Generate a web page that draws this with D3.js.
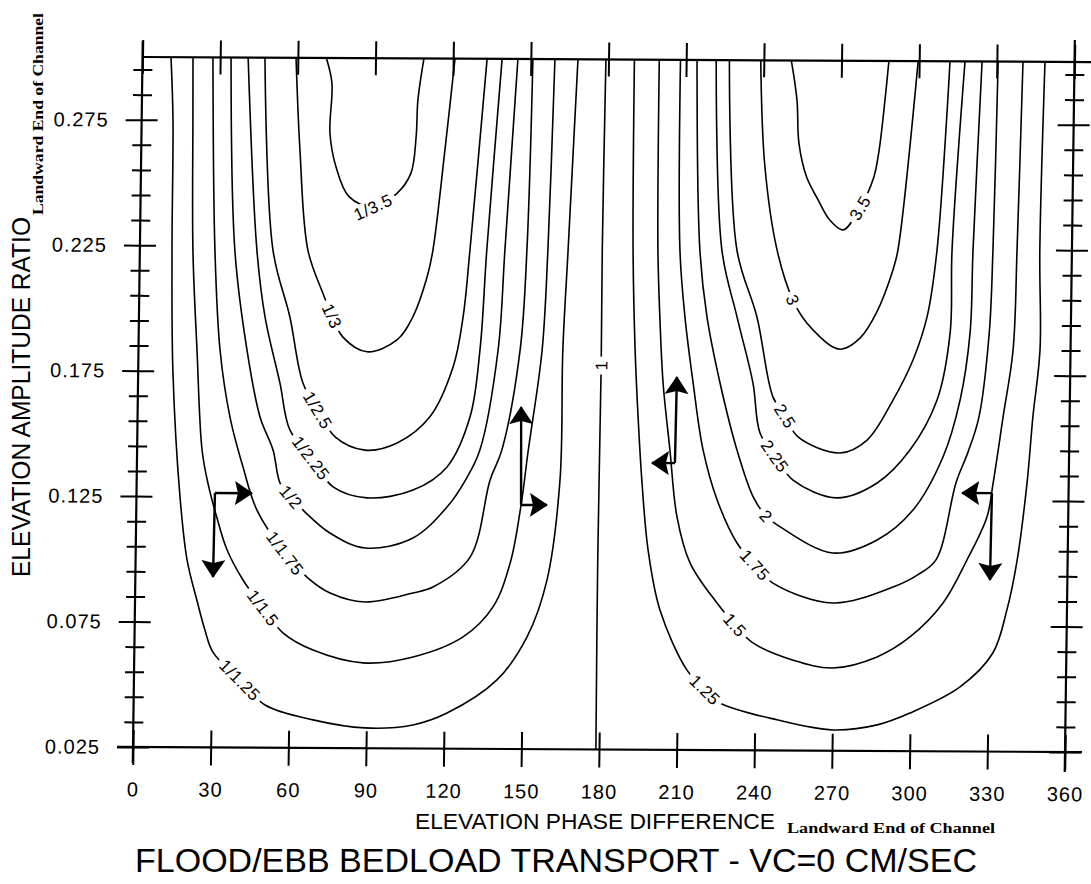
<!DOCTYPE html>
<html>
<head>
<meta charset="utf-8">
<script src="https://cdn.jsdelivr.net/npm/d3@7"></script>
<style>
  html, body { margin: 0; padding: 0; background: #fff; }
  svg { display: block; }
  text { fill: #000; }
</style>
</head>
<body>
<svg id="chart" width="1091" height="884"></svg>
<script>
// Axis ticks
const phaseTicks = [0, 30, 60, 90, 120, 150, 180, 210, 240, 270, 300, 330, 360];
const ratioMajor = [0.025, 0.075, 0.125, 0.175, 0.225, 0.275];
const ratioMinor = [0.035, 0.045, 0.055, 0.065, 0.085, 0.095, 0.105, 0.115,
                    0.135, 0.145, 0.155, 0.165, 0.185, 0.195, 0.205, 0.215,
                    0.235, 0.245, 0.255, 0.265, 0.285, 0.295];

// Contours of flood/ebb transport ratio, points as [phase (deg), amplitude ratio]
// Ebb-dominated family centred near 90 deg
const inv125 = [[11.0,0.300],[12.1,0.275],[12.4,0.225],[13.4,0.175],[16.8,0.125],[19.9,0.0996],[23.9,0.0836],[27.2,0.0716],[30.4,0.0629],[41.0,0.0519],[50.8,0.0420],[69.4,0.0362],[89.5,0.0331],[108.0,0.0344],[121.1,0.0392],[140.2,0.0525],[151.6,0.0697],[159.0,0.0924],[163.5,0.1323],[163.9,0.1841],[165.4,0.2240],[168.2,0.300]];
const inv150 = [[19.5,0.300],[19.8,0.275],[20.5,0.223],[22.6,0.1834],[25.1,0.1434],[27.6,0.130],[31.2,0.1165],[35.3,0.1037],[41.6,0.0918],[49.5,0.0807],[57.3,0.0708],[69.0,0.064],[88.4,0.059],[107.7,0.0615],[126.9,0.0696],[138.3,0.0816],[144.7,0.0991],[148.6,0.1223],[151.0,0.1434],[155.9,0.184],[157.6,0.224],[159.3,0.300]];
const inv175 = [[27.2,0.300],[29.0,0.2232],[31.5,0.1834],[35.7,0.1567],[41.0,0.1368],[46.6,0.1197],[57.7,0.1026],[66.7,0.0927],[75.3,0.0868],[88.8,0.0833],[107.3,0.087],[115.0,0.0894],[129.2,0.1014],[136.5,0.1322],[140.9,0.1442],[147.4,0.184],[149.5,0.224],[150.8,0.300]];
const inv200 = [[34.2,0.300],[36.7,0.2231],[41.9,0.1835],[47.3,0.1568],[52.5,0.1437],[55.4,0.1305],[59.7,0.125],[65.2,0.119],[74.9,0.1107],[88.6,0.1048],[107.0,0.1089],[120.0,0.1213],[127.0,0.1321],[132.4,0.1441],[138.9,0.184],[141.0,0.2239],[145.0,0.300]];
const inv225 = [[40.8,0.300],[45.2,0.2234],[48.7,0.1967],[54.8,0.1704],[58.9,0.1517],[67.2,0.1406],[75.9,0.1291],[89.1,0.1248],[106.8,0.128],[119.8,0.1373],[128.4,0.1572],[131.9,0.184],[134.0,0.2238],[138.9,0.300]];
const inv250 = [[47.3,0.300],[51.4,0.2234],[58.3,0.1967],[63.7,0.1704],[69.6,0.1597],[76.4,0.149],[88.0,0.1438],[100.4,0.1467],[112.9,0.1572],[121.6,0.1771],[125.2,0.1971],[127.5,0.2238],[133.1,0.300]];
const inv300 = [[59.3,0.300],[61.3,0.2633],[64.9,0.2234],[70.9,0.2063],[74.6,0.1972],[78.9,0.1888],[88.3,0.183],[99.8,0.1878],[105.8,0.197],[111.1,0.213],[113.2,0.2237],[117.3,0.2636],[120.7,0.300]];
const inv350 = [[71.0,0.300],[73.3,0.290],[72.8,0.270],[75.3,0.2567],[80.5,0.2448],[89.8,0.2407],[99.0,0.2462],[104.3,0.2543],[106.1,0.2688],[106.6,0.2835],[108.7,0.300]];
// Balanced transport
const unity = [[179.0,0.300],[178.6,0.2245],[178.8,0.178],[178.5,0.100],[178.8,0.025]];
// Flood-dominated family centred near 270 deg
const r125 = [[190.0,0.300],[190.5,0.2241],[191.8,0.1847],[193.3,0.158],[195.2,0.1313],[197.9,0.1046],[202.8,0.0807],[213.5,0.0569],[220.6,0.049],[226.5,0.0438],[248.6,0.0372],[270.3,0.0333],[287.3,0.0354],[299.9,0.0402],[319.1,0.0507],[331.6,0.0643],[336.8,0.0815],[340.5,0.1014],[343.9,0.1321],[345.8,0.1584],[348.2,0.1852],[347.6,0.225],[348.6,0.300]];
const r150 = [[199.6,0.300],[200.1,0.2242],[201.2,0.1975],[202.8,0.1712],[205.8,0.1445],[208.9,0.1178],[214.2,0.0995],[224.8,0.0836],[231.8,0.0749],[238.9,0.0678],[254.5,0.061],[269.9,0.058],[286.9,0.0625],[299.5,0.0705],[312.1,0.0841],[321.1,0.1013],[328.6,0.1185],[330.8,0.132],[334.3,0.1584],[337.8,0.1851],[338.8,0.225],[340.1,0.300]];
const r175 = [[207.8,0.300],[208.6,0.2242],[210.9,0.1975],[214.4,0.1713],[218.6,0.1446],[224.3,0.1247],[232.2,0.1076],[239.3,0.0989],[246.3,0.0917],[269.6,0.0839],[292.7,0.0904],[302.0,0.0952],[309.2,0.1014],[316.5,0.1322],[320.9,0.1442],[325.0,0.1584],[328.5,0.1918],[329.5,0.2249],[330.5,0.300]];
const r200 = [[214.2,0.300],[216.3,0.2243],[219.4,0.1976],[224.8,0.1713],[231.7,0.1446],[238.2,0.126],[243.3,0.1184],[248.8,0.1141],[269.3,0.1038],[286.3,0.1091],[300.0,0.1211],[311.3,0.1423],[317.6,0.165],[321.1,0.1918],[321.8,0.2249],[324.3,0.300]];
const r225 = [[221.6,0.300],[224.8,0.2243],[231.0,0.1977],[237.5,0.1714],[240.5,0.1515],[246.4,0.1423],[253.5,0.1328],[270.6,0.1258],[286.0,0.1318],[298.5,0.145],[308.7,0.165],[313.4,0.1918],[313.7,0.2248],[317.7,0.300]];
const r250 = [[226.7,0.300],[230.6,0.2244],[238.7,0.1977],[245.3,0.1659],[250.1,0.1583],[255.2,0.150],[271.5,0.1437],[281.9,0.1489],[291.7,0.1649],[299.2,0.1809],[304.4,0.1981],[307.9,0.2248],[311.9,0.300]];
const r300 = [[238.8,0.300],[240.9,0.2584],[246.1,0.2245],[252.5,0.2045],[258.0,0.1954],[268.2,0.1859],[271.7,0.1851],[278.7,0.1896],[285.0,0.200],[291.0,0.2168],[292.8,0.2247],[299.6,0.300]];
const r350 = [[250.6,0.300],[253.0,0.2843],[254.0,0.267],[257.1,0.2537],[261.7,0.2445],[266.3,0.2365],[271.5,0.2326],[277.9,0.2414],[283.0,0.2533],[285.0,0.2645],[287.0,0.2845],[288.3,0.300]];

const contourLines  = [inv125, inv150, inv175, inv200, inv225, inv250, inv300, inv350, unity,
                       r125, r150, r175, r200, r225, r250, r300, r350];
const contourLabels = ["1/1.25", "1/1.5", "1/1.75", "1/2", "1/2.25", "1/2.5", "1/3", "1/3.5", "1",
                       "1.25", "1.5", "1.75", "2", "2.25", "2.5", "3", "3.5"];
// index of the traced point each label is centred on
const labelPoint    = [9, 9, 6, 6, 5, 4, 4, 5, 2, 8, 8, 7, 6, 5, 4, 3, 7];

// Net transport direction arrows: corner, horizontal tip, vertical tip
const arrowCorner = [[30.3,0.1264],[148.6,0.1223],[207.8,0.1393],[330.4,0.1280]];
const arrowHTip   = [[44.6,0.1264],[158.6,0.1223],[198.9,0.1393],[318.9,0.1280]];
const arrowVTip   = [[30.0,0.0929],[148.1,0.1613],[208.1,0.1736],[330.1,0.0934]];

const W = 1091, H = 884;
const SANS = "'Liberation Sans', Arial, sans-serif";
const SERIF = "'Liberation Serif', 'DejaVu Serif', serif";
const x = d3.scaleLinear().domain([0, 360]).range([133, 1065]);
const y = d3.scaleLinear().domain([0.025, 0.3]).range([747, 57]);

const svg = d3.select("#chart");
svg.append("rect").attr("width", W).attr("height", H).attr("fill", "#fff");

const defs = svg.append("defs");
defs.append("marker")
  .attr("id", "head")
  .attr("viewBox", "0 0 18 24")
  .attr("refX", 17).attr("refY", 12)
  .attr("markerWidth", 18).attr("markerHeight", 24)
  .attr("markerUnits", "userSpaceOnUse")
  .attr("orient", "auto")
  .append("path").attr("d", "M0,0L18,12L0,24L3,12Z").attr("fill", "#000");

// Plot frame is slightly sheared, as on the plotter sheet
const g = svg.append("g").attr("transform", "matrix(1,0.00536,-0.0138,1,10.31,-0.713)");

// Contour lines
const line = d3.line()
  .x(d => x(d[0]))
  .y(d => y(d[1]))
  .curve(d3.curveCatmullRom.alpha(0.5));

g.append("g").selectAll("path")
  .data(contourLines)
  .join("path")
  .attr("d", line)
  .attr("fill", "none")
  .attr("stroke", "#000")
  .attr("stroke-width", 1.6);

// Contour labels, aligned with the local direction of the line; a white
// backing box opens a gap in the line under each label
const labelTilt = { "1/3.5": -25 };
const labels = g.append("g").selectAll("g")
  .data(contourLines)
  .join("g")
  .attr("transform", (pts, i) => {
    const k = labelPoint[i];
    const p = pts[k], a = pts[k - 1], b = pts[k + 1];
    let ang = Math.atan2(y(b[1]) - y(a[1]), x(b[0]) - x(a[0])) * 180 / Math.PI;
    if (ang > 80) ang -= 180;
    if (ang < -100) ang += 180;
    if (labelTilt[contourLabels[i]] !== undefined) ang = labelTilt[contourLabels[i]];
    return `translate(${x(p[0])},${y(p[1])}) rotate(${ang})`;
  });
const boxes = labels.append("rect").attr("fill", "#fff");
const texts = labels.append("text")
  .attr("text-anchor", "middle")
  .attr("dy", "0.36em")
  .style("font-family", SANS)
  .style("font-size", "17px")
  .style("letter-spacing", "0.5px")
  .text((d, i) => contourLabels[i]);
texts.each(function (d, i) {
  const len = this.getComputedTextLength();
  d3.select(boxes.nodes()[i])
    .attr("x", -len / 2 - 4).attr("width", len + 8)
    .attr("y", -8).attr("height", 16);
});

// Direction arrows
const arrows = g.append("g").attr("stroke", "#000").attr("stroke-width", 2.4);
arrows.selectAll("line.h")
  .data(arrowCorner)
  .join("line")
  .attr("class", "h")
  .attr("x1", d => x(d[0])).attr("y1", d => y(d[1]))
  .attr("x2", (d, i) => x(arrowHTip[i][0])).attr("y2", (d, i) => y(arrowHTip[i][1]))
  .attr("marker-end", "url(#head)");
arrows.selectAll("line.v")
  .data(arrowCorner)
  .join("line")
  .attr("class", "v")
  .attr("x1", d => x(d[0])).attr("y1", d => y(d[1]))
  .attr("x2", (d, i) => x(arrowVTip[i][0])).attr("y2", (d, i) => y(arrowVTip[i][1]))
  .attr("marker-end", "url(#head)");

// Axes
function styleAxis(sel, labelled) {
  sel.select(".domain").remove();
  sel.selectAll(".tick line").attr("stroke", "#000").attr("stroke-width", 2);
  if (labelled) {
    sel.selectAll(".tick text")
      .style("font-family", SANS)
      .style("font-size", "20px")
      .style("letter-spacing", "1px")
      .attr("fill", "#000");
  }
}
const fmtRatio = d3.format(".3f");
const yBottom = y(0.025), yTop = y(0.3), xLeft = x(0), xRight = x(360);

// bottom axis: ticks across the line, labels below
g.append("g").attr("transform", `translate(0,${yBottom})`)
  .call(d3.axisBottom(x).tickValues(phaseTicks).tickSize(18).tickPadding(17).tickFormat(d3.format("d")))
  .call(s => styleAxis(s, true));
g.append("g").attr("transform", `translate(0,${yBottom})`)
  .call(d3.axisTop(x).tickValues(phaseTicks).tickSize(17).tickFormat(""))
  .call(s => styleAxis(s, false));
// top border ticks
g.append("g").attr("transform", `translate(0,${yTop})`)
  .call(d3.axisTop(x).tickValues(phaseTicks).tickSize(17).tickFormat(""))
  .call(s => styleAxis(s, false));
g.append("g").attr("transform", `translate(0,${yTop})`)
  .call(d3.axisBottom(x).tickValues(phaseTicks).tickSize(17).tickFormat(""))
  .call(s => styleAxis(s, false));

// left axis
g.append("g").attr("transform", `translate(${xLeft},0)`)
  .call(d3.axisLeft(y).tickValues(ratioMajor).tickSize(16).tickPadding(17).tickFormat(fmtRatio))
  .call(s => styleAxis(s, true));
g.append("g").attr("transform", `translate(${xLeft},0)`)
  .call(d3.axisRight(y).tickValues(ratioMajor).tickSize(16).tickFormat(""))
  .call(s => styleAxis(s, false));
g.append("g").attr("transform", `translate(${xLeft},0)`)
  .call(d3.axisLeft(y).tickValues(ratioMinor).tickSize(9).tickFormat(""))
  .call(s => styleAxis(s, false));
g.append("g").attr("transform", `translate(${xLeft},0)`)
  .call(d3.axisRight(y).tickValues(ratioMinor).tickSize(10).tickFormat(""))
  .call(s => styleAxis(s, false));

// right axis
g.append("g").attr("transform", `translate(${xRight},0)`)
  .call(d3.axisLeft(y).tickValues(ratioMajor).tickSize(16).tickFormat(""))
  .call(s => styleAxis(s, false));
g.append("g").attr("transform", `translate(${xRight},0)`)
  .call(d3.axisRight(y).tickValues(ratioMajor).tickSize(16).tickFormat(""))
  .call(s => styleAxis(s, false));
g.append("g").attr("transform", `translate(${xRight},0)`)
  .call(d3.axisLeft(y).tickValues(ratioMinor).tickSize(9).tickFormat(""))
  .call(s => styleAxis(s, false));
g.append("g").attr("transform", `translate(${xRight},0)`)
  .call(d3.axisRight(y).tickValues(ratioMinor).tickSize(10).tickFormat(""))
  .call(s => styleAxis(s, false));

// frame lines
const frame = g.append("g").attr("stroke", "#000").attr("stroke-width", 2.2);
frame.append("line").attr("x1", xLeft - 16).attr("x2", xRight + 17).attr("y1", yBottom).attr("y2", yBottom);
frame.append("line").attr("x1", xLeft).attr("x2", xRight + 17).attr("y1", yTop).attr("y2", yTop);
frame.append("line").attr("x1", xLeft).attr("x2", xLeft).attr("y1", yTop - 16).attr("y2", yBottom + 16);
frame.append("line").attr("x1", xRight).attr("x2", xRight).attr("y1", yTop - 22).attr("y2", yBottom + 20);

// Titles
svg.append("text")
  .attr("x", 415).attr("y", 829)
  .style("font-family", SANS).style("font-size", "22px")
  .attr("textLength", 360).attr("lengthAdjust", "spacingAndGlyphs")
  .text("ELEVATION PHASE DIFFERENCE");
svg.append("text")
  .attr("x", 787).attr("y", 833)
  .style("font-family", SERIF).style("font-weight", "bold").style("font-size", "15px")
  .attr("textLength", 208).attr("lengthAdjust", "spacingAndGlyphs")
  .text("Landward End of Channel");
svg.append("text")
  .attr("transform", "translate(30,397) rotate(-90)")
  .attr("text-anchor", "middle")
  .style("font-family", SANS).style("font-size", "26px")
  .attr("textLength", 360).attr("lengthAdjust", "spacingAndGlyphs")
  .text("ELEVATION AMPLITUDE RATIO");
svg.append("text")
  .attr("transform", "translate(43,215) rotate(-90)")
  .style("font-family", SERIF).style("font-weight", "bold").style("font-size", "14px")
  .attr("textLength", 202).attr("lengthAdjust", "spacingAndGlyphs")
  .text("Landward End of Channel");
svg.append("text")
  .attr("x", 135).attr("y", 872)
  .style("font-family", SANS).style("font-size", "33px")
  .attr("textLength", 842).attr("lengthAdjust", "spacingAndGlyphs")
  .text("FLOOD/EBB BEDLOAD TRANSPORT - VC=0 CM/SEC");
</script>
</body>
</html>
